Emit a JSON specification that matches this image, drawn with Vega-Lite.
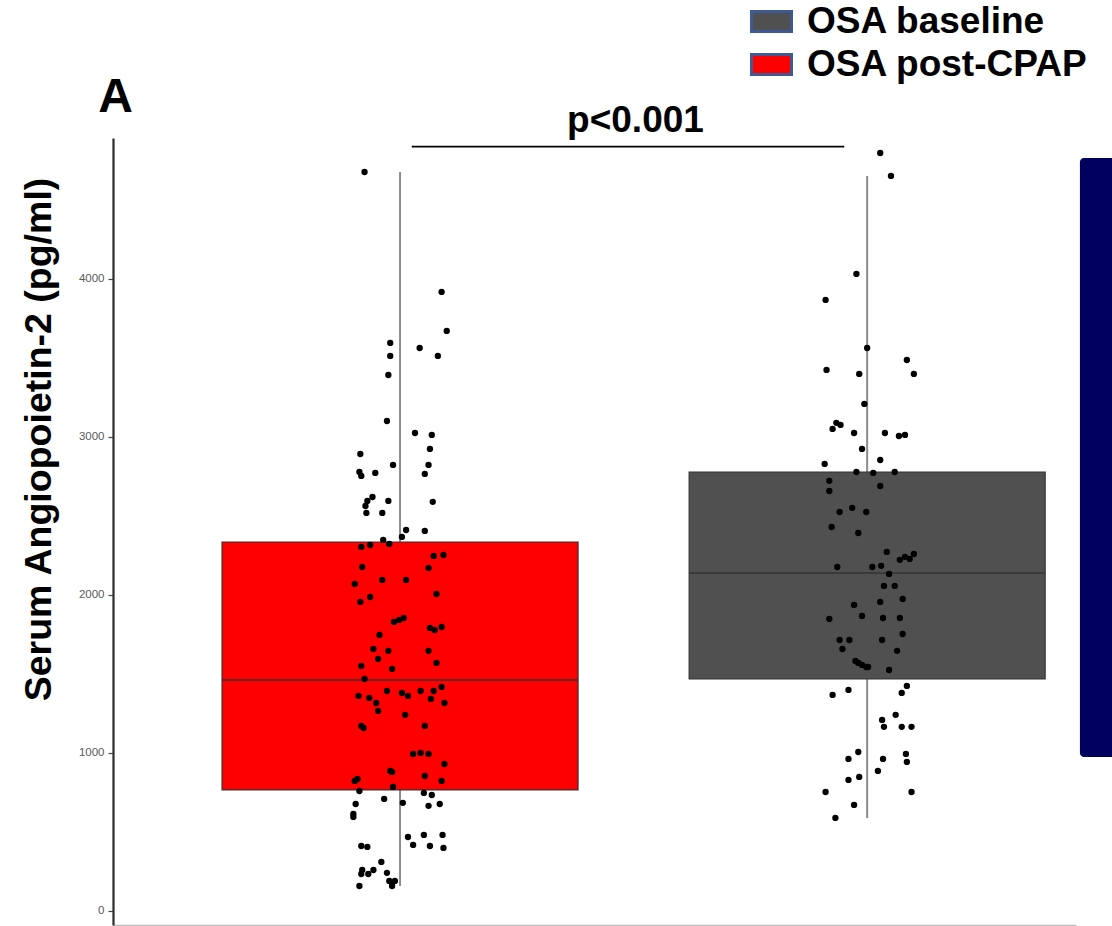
{
  "$schema": "https://vega.github.io/schema/vega-lite/v6.json",
  "width": 963,
  "height": 787,
  "autosize": {"type": "none"},
  "padding": {"left": 113, "top": 138, "right": 36, "bottom": 1},
  "background": "white",
  "config": {"view": {"stroke": null}, "font": "Liberation Sans"},
  "datasets": {
    "boxes": [
      {"group": "OSA post-CPAP", "pos": 1, "lower": 158, "q1": 766, "median": 1462, "q3": 2335, "upper": 4677},
      {"group": "OSA baseline", "pos": 2, "lower": 589, "q1": 1468, "median": 2139, "q3": 2778, "upper": 4652}
    ],
    "points": [
      {"x":0.924,"v":4677},{"x":1.089,"v":3918},{"x":1.100,"v":3671},{"x":0.979,"v":3595},{"x":1.042,"v":3563},
      {"x":0.979,"v":3513},{"x":1.081,"v":3513},{"x":0.975,"v":3392},{"x":0.972,"v":3101},{"x":1.032,"v":3025},
      {"x":1.068,"v":3013},{"x":0.915,"v":2892},{"x":1.064,"v":2924},{"x":0.985,"v":2823},{"x":1.061,"v":2823},
      {"x":0.913,"v":2778},{"x":0.917,"v":2753},{"x":0.947,"v":2772},{"x":1.053,"v":2766},{"x":0.941,"v":2620},
      {"x":0.930,"v":2595},{"x":0.926,"v":2563},{"x":0.975,"v":2595},{"x":1.070,"v":2589},{"x":0.928,"v":2519},
      {"x":0.962,"v":2519},{"x":1.013,"v":2411},{"x":1.004,"v":2367},{"x":1.053,"v":2405},{"x":0.964,"v":2348},
      {"x":0.977,"v":2323},{"x":0.917,"v":2304},{"x":0.936,"v":2316},{"x":1.093,"v":2253},{"x":1.072,"v":2247},
      {"x":0.919,"v":2177},{"x":1.061,"v":2171},{"x":0.903,"v":2070},{"x":0.962,"v":2095},{"x":1.013,"v":2095},
      {"x":1.078,"v":2006},{"x":0.936,"v":1987},{"x":0.915,"v":1956},{"x":0.987,"v":1829},{"x":0.998,"v":1842},
      {"x":1.008,"v":1854},{"x":1.064,"v":1791},{"x":1.074,"v":1778},{"x":1.089,"v":1797},{"x":0.956,"v":1747},
      {"x":0.943,"v":1658},{"x":0.975,"v":1646},{"x":1.061,"v":1646},{"x":0.953,"v":1595},{"x":1.078,"v":1570},
      {"x":0.917,"v":1551},{"x":0.983,"v":1532},{"x":0.924,"v":1468},{"x":0.972,"v":1392},{"x":1.004,"v":1380},
      {"x":1.017,"v":1361},{"x":1.044,"v":1392},{"x":1.072,"v":1392},{"x":1.089,"v":1418},{"x":0.911,"v":1361},
      {"x":0.934,"v":1348},{"x":0.949,"v":1316},{"x":1.066,"v":1342},{"x":1.095,"v":1316},{"x":0.953,"v":1266},
      {"x":1.011,"v":1241},{"x":0.917,"v":1171},{"x":0.922,"v":1158},{"x":1.053,"v":1171},{"x":1.028,"v":994},
      {"x":1.044,"v":1000},{"x":1.061,"v":994},{"x":1.095,"v":930},{"x":0.979,"v":886},{"x":0.983,"v":880},
      {"x":0.903,"v":823},{"x":0.909,"v":835},{"x":1.053,"v":854},{"x":1.089,"v":823},{"x":0.913,"v":759},
      {"x":0.985,"v":785},{"x":1.051,"v":747},{"x":1.068,"v":734},{"x":0.966,"v":709},{"x":1.006,"v":684},
      {"x":1.061,"v":665},{"x":1.085,"v":677},{"x":0.905,"v":677},{"x":0.900,"v":614},{"x":0.900,"v":595},
      {"x":1.017,"v":468},{"x":1.028,"v":418},{"x":1.051,"v":481},{"x":1.064,"v":411},{"x":1.091,"v":481},
      {"x":1.093,"v":399},{"x":0.917,"v":411},{"x":0.930,"v":405},{"x":0.960,"v":310},{"x":0.919,"v":259},
      {"x":0.943,"v":259},{"x":0.917,"v":234},{"x":0.932,"v":234},{"x":0.972,"v":241},{"x":0.977,"v":190},
      {"x":0.983,"v":177},{"x":0.989,"v":190},{"x":0.913,"v":158},{"x":0.983,"v":158},
      {"x":2.028,"v":4797},{"x":2.051,"v":4652},{"x":1.977,"v":4032},{"x":1.911,"v":3867},{"x":2.000,"v":3563},
      {"x":1.913,"v":3424},{"x":2.085,"v":3487},{"x":1.983,"v":3399},{"x":2.100,"v":3399},{"x":1.994,"v":3209},
      {"x":1.926,"v":3051},{"x":1.934,"v":3089},{"x":1.943,"v":3076},{"x":1.972,"v":3025},{"x":2.038,"v":3025},
      {"x":2.068,"v":3006},{"x":2.081,"v":3013},{"x":1.989,"v":2924},{"x":2.028,"v":2854},{"x":1.909,"v":2829},
      {"x":1.977,"v":2778},{"x":2.013,"v":2772},{"x":2.059,"v":2778},{"x":1.919,"v":2722},{"x":1.919,"v":2658},
      {"x":2.028,"v":2690},{"x":1.968,"v":2551},{"x":1.941,"v":2525},{"x":1.998,"v":2525},{"x":1.924,"v":2430},
      {"x":1.981,"v":2392},{"x":2.042,"v":2272},{"x":2.070,"v":2222},{"x":2.081,"v":2241},{"x":2.091,"v":2228},
      {"x":2.100,"v":2259},{"x":1.936,"v":2177},{"x":2.011,"v":2177},{"x":2.030,"v":2184},{"x":2.047,"v":2133},
      {"x":2.036,"v":2057},{"x":2.059,"v":2057},{"x":2.076,"v":1975},{"x":2.028,"v":1956},{"x":1.972,"v":1937},
      {"x":1.989,"v":1867},{"x":1.919,"v":1848},{"x":2.034,"v":1854},{"x":2.070,"v":1854},{"x":2.076,"v":1753},
      {"x":1.941,"v":1715},{"x":1.962,"v":1715},{"x":2.032,"v":1715},{"x":1.947,"v":1658},{"x":2.064,"v":1646},
      {"x":1.975,"v":1582},{"x":1.981,"v":1570},{"x":1.989,"v":1557},{"x":1.998,"v":1544},{"x":2.002,"v":1544},
      {"x":2.047,"v":1525},{"x":1.926,"v":1367},{"x":1.960,"v":1399},{"x":2.085,"v":1424},{"x":2.074,"v":1380},
      {"x":2.061,"v":1241},{"x":2.032,"v":1209},{"x":2.036,"v":1165},{"x":2.074,"v":1165},{"x":2.095,"v":1165},
      {"x":1.981,"v":1006},{"x":1.960,"v":962},{"x":2.034,"v":962},{"x":2.083,"v":994},{"x":2.085,"v":943},
      {"x":2.023,"v":886},{"x":1.960,"v":829},{"x":1.983,"v":848},{"x":1.911,"v":753},{"x":2.095,"v":753},
      {"x":1.972,"v":671},{"x":1.932,"v":589}
    ]
  },
  "layer": [
    {
      "data": {"name": "boxes"},
      "mark": {"type": "rule", "color": "#8c8c8c", "strokeWidth": 2},
      "encoding": {
        "x": {"field": "pos", "type": "quantitative", "title": null,
              "scale": {"domain": [0.3962, 2.4364], "nice": false, "zero": false},
              "axis": {"labels": false, "ticks": false, "grid": false, "domainColor": "#bdbdbd", "domainWidth": 1.5}},
        "y": {"field": "lower", "type": "quantitative", "title": "Serum Angiopoietin-2 (pg/ml)",
              "scale": {"domain": [-89, 4892], "nice": false, "zero": false},
              "axis": {"values": [0, 1000, 2000, 3000, 4000], "format": "d", "grid": false,
                       "domainColor": "#2b2b2b", "domainWidth": 2.2,
                       "tickColor": "#444444", "tickSize": 5, "tickWidth": 1.2,
                       "labelColor": "#5a5a5a", "labelFontSize": 11.5, "labelPadding": 4,
                       "titleFontSize": 37.5, "titleFontWeight": "bold", "titleColor": "black",
                       "titleFont": "Liberation Sans",
                       "titleX": -74, "titleY": 301, "titleBaseline": "middle", "titleAlign": "center"}},
        "y2": {"field": "upper"}
      }
    },
    {
      "data": {"name": "boxes"},
      "mark": {"type": "bar", "width": 356, "stroke": "#333333", "strokeWidth": 1.2},
      "encoding": {
        "x": {"field": "pos", "type": "quantitative", "title": null},
        "y": {"field": "q1", "type": "quantitative", "title": "Serum Angiopoietin-2 (pg/ml)"},
        "y2": {"field": "q3"},
        "fill": {"field": "group", "type": "nominal",
                 "scale": {"domain": ["OSA baseline", "OSA post-CPAP"], "range": ["#505050", "#ff0000"]},
                 "legend": {"orient": "none", "legendX": 637, "legendY": -138, "title": null, "padding": 0,
                            "symbolType": "M-1,-0.5L1,-0.5L1,0.5L-1,0.5Z", "symbolSize": 1600,
                            "symbolStrokeColor": "#3d5a94", "symbolStrokeWidth": 3, "symbolOpacity": 1,
                            "labelFontSize": 37, "labelFont": "Liberation Sans", "labelFontWeight": "bold",
                            "labelColor": "black", "labelOffset": 14, "rowPadding": 3, "labelLimit": 400}}
      }
    },
    {
      "data": {"name": "boxes"},
      "mark": {"type": "tick", "orient": "horizontal", "size": 356, "thickness": 1.6, "color": "#333333", "opacity": 1},
      "encoding": {
        "x": {"field": "pos", "type": "quantitative", "title": null},
        "y": {"field": "median", "type": "quantitative", "title": "Serum Angiopoietin-2 (pg/ml)"}
      }
    },
    {
      "data": {"name": "points"},
      "mark": {"type": "circle", "size": 40, "color": "black", "opacity": 1},
      "encoding": {
        "x": {"field": "x", "type": "quantitative", "title": null},
        "y": {"field": "v", "type": "quantitative", "title": "Serum Angiopoietin-2 (pg/ml)"}
      }
    },
    {
      "data": {"values": [{}]},
      "mark": {"type": "rule", "color": "black", "strokeWidth": 1.8},
      "encoding": {
        "x": {"datum": 1.025},
        "x2": {"datum": 1.951},
        "y": {"datum": 4838}
      }
    },
    {
      "data": {"values": [{}]},
      "mark": {"type": "text", "fontSize": 37, "fontWeight": "bold", "font": "Liberation Sans",
               "baseline": "alphabetic", "align": "center", "color": "black"},
      "encoding": {
        "x": {"datum": 1.504},
        "y": {"datum": 4928},
        "text": {"value": "p<0.001"}
      }
    },
    {
      "data": {"values": [{}]},
      "mark": {"type": "text", "fontSize": 48, "fontWeight": "bold", "font": "Liberation Sans",
               "baseline": "alphabetic", "align": "left", "color": "black"},
      "encoding": {
        "x": {"datum": 0.354},
        "y": {"datum": 5057},
        "text": {"value": "A"}
      }
    },
    {
      "data": {"values": [{}]},
      "mark": {"type": "rect", "color": "#00005e", "cornerRadius": 4},
      "encoding": {
        "x": {"datum": 2.4555},
        "x2": {"datum": 2.54},
        "y": {"datum": 4766},
        "y2": {"datum": 975}
      }
    }
  ]
}
